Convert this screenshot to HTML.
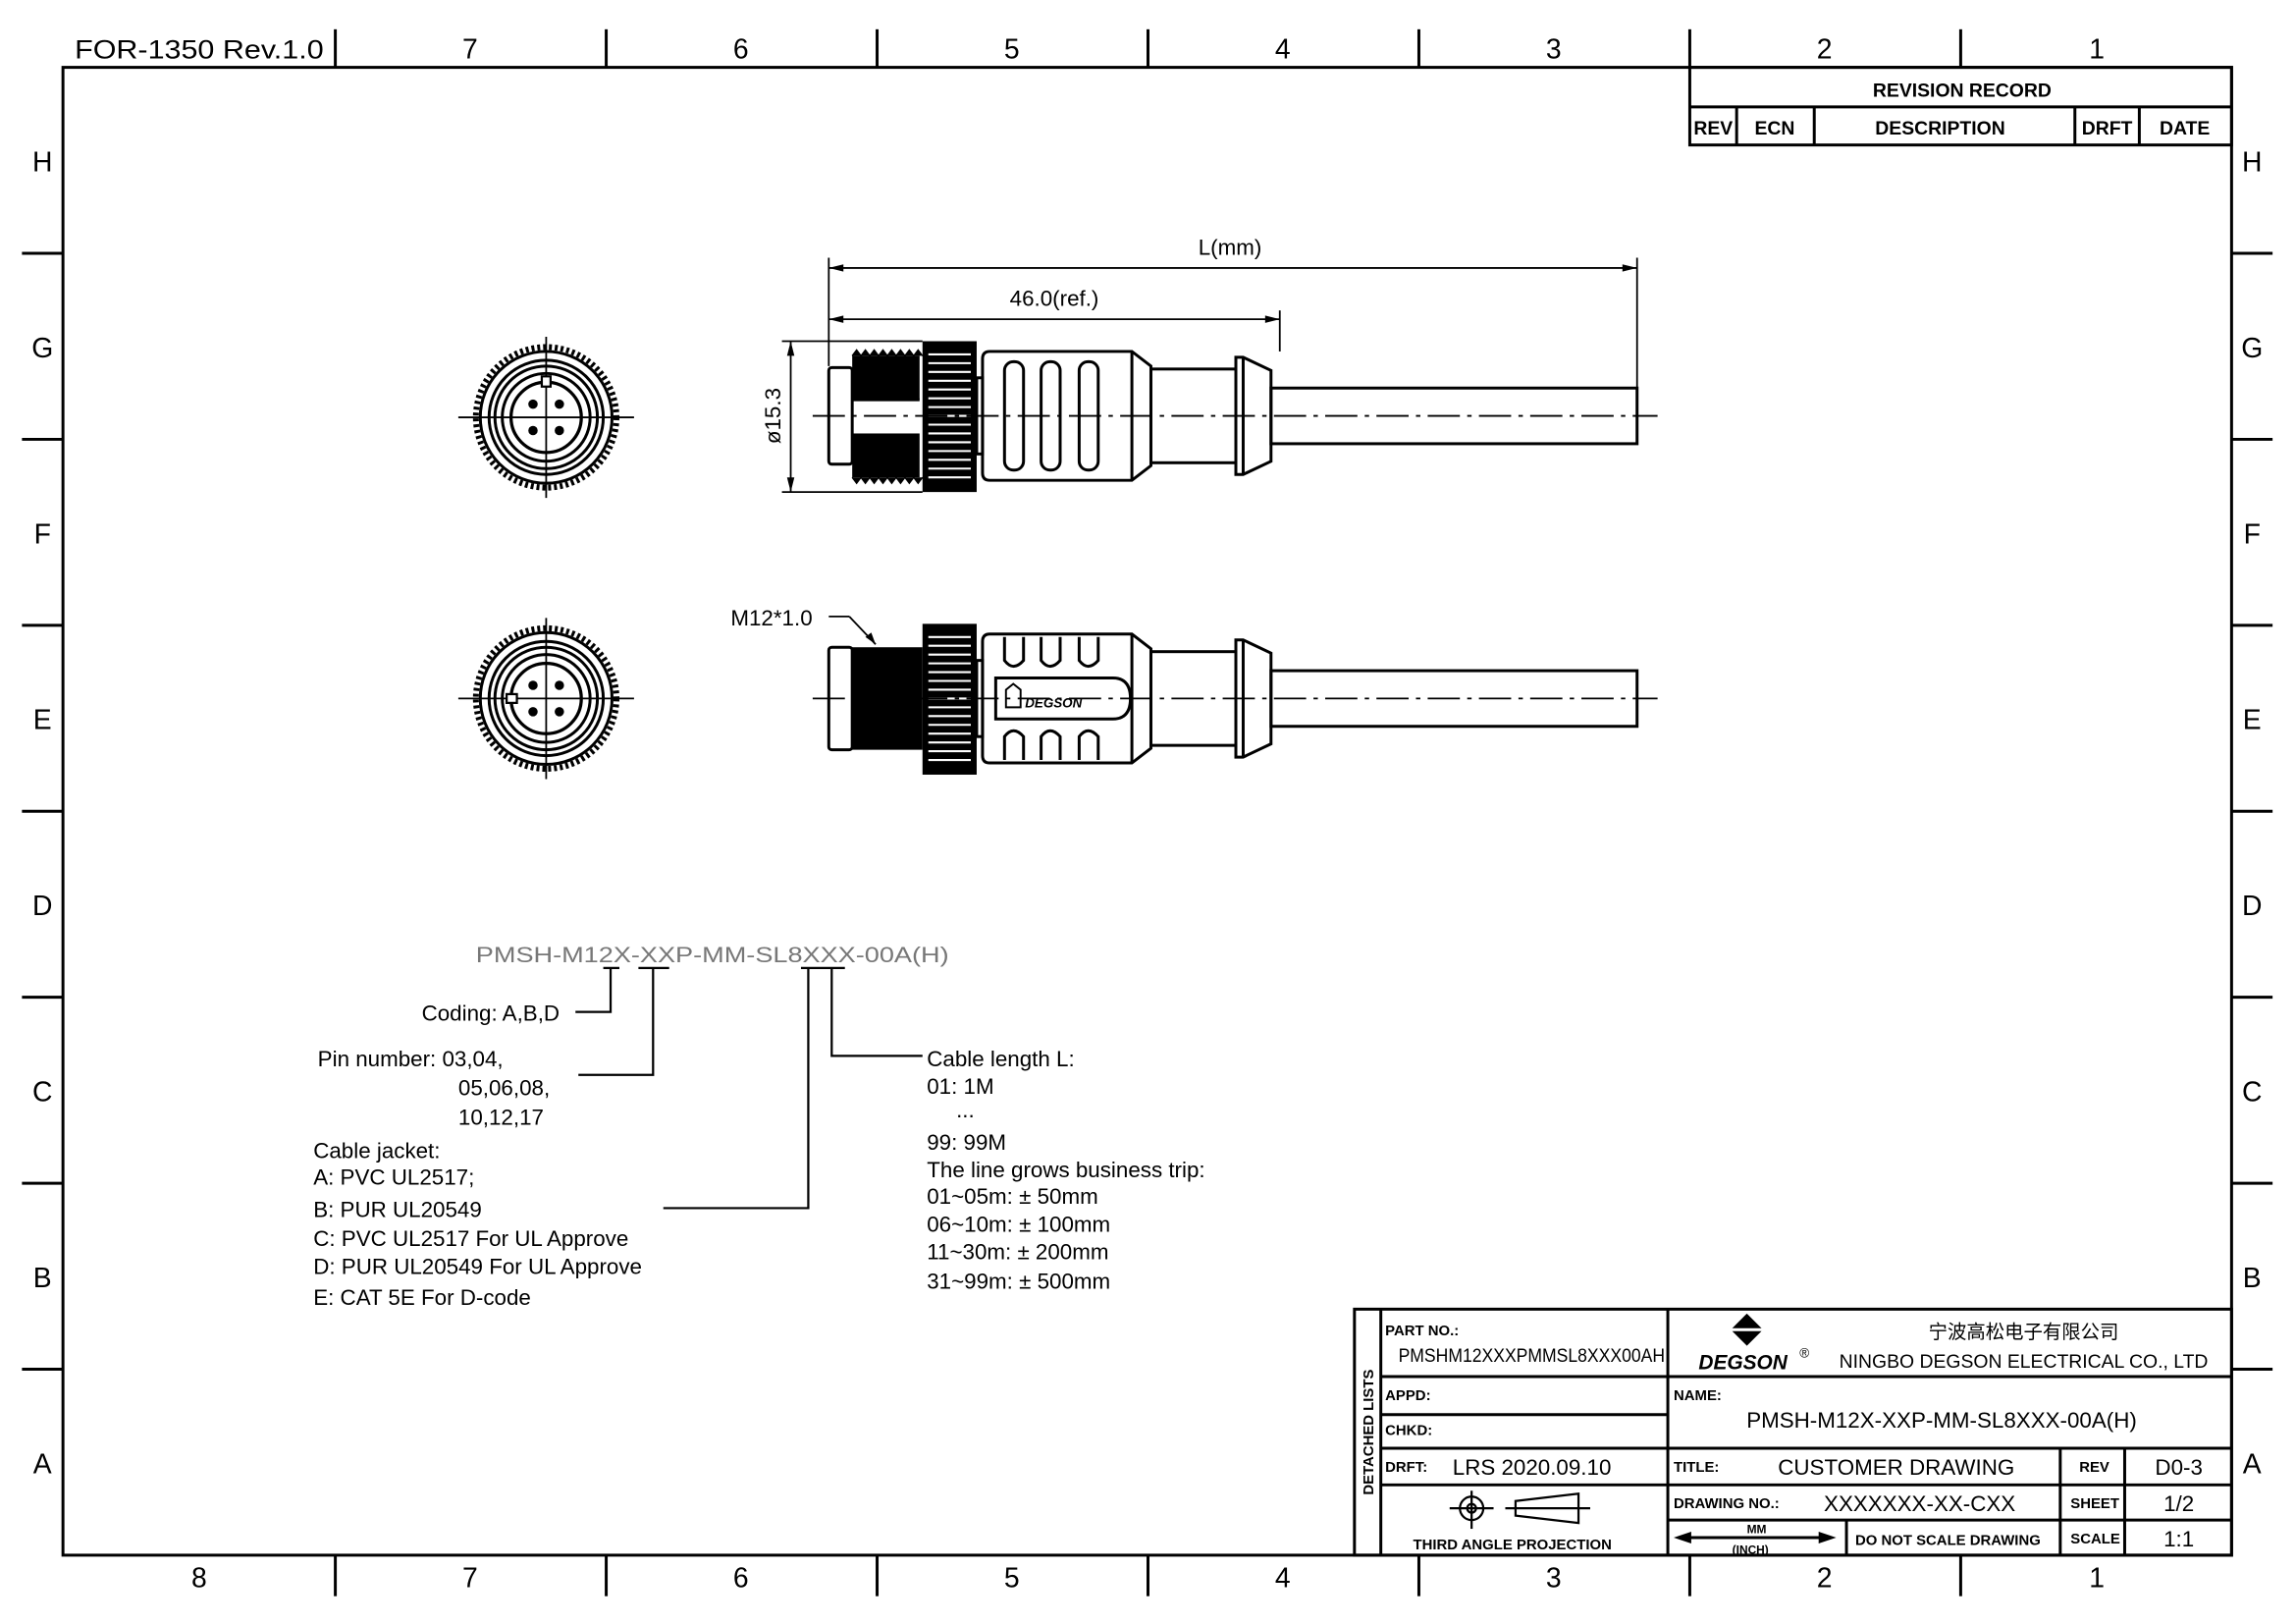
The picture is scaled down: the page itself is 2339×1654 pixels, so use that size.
<!DOCTYPE html>
<html><head><meta charset="utf-8"><style>html,body{margin:0;padding:0;background:#fff}svg{display:block}text{font-family:"Liberation Sans","Noto Sans CJK SC",sans-serif;fill:#000}</style></head><body>
<svg width="2339" height="1654" viewBox="0 0 1568 1109" preserveAspectRatio="none" xmlns="http://www.w3.org/2000/svg">
<defs>
<g id="front">
<line x1="-60" y1="0" x2="60" y2="0" stroke="#000" stroke-width="1.2"/>
<line x1="0" y1="-55" x2="0" y2="55" stroke="#000" stroke-width="1.2"/>
<ellipse cx="0" cy="0" rx="48" ry="48" fill="none" stroke="#000" stroke-width="4" stroke-dasharray="2 2"/>
<circle r="45" fill="none" stroke="#000" stroke-width="2"/>
<circle r="39" fill="none" stroke="#000" stroke-width="2"/>
<circle r="35" fill="none" stroke="#000" stroke-width="2"/>
<circle r="30" fill="none" stroke="#000" stroke-width="2"/>
<circle r="24" fill="none" stroke="#000" stroke-width="2.2"/>
<circle cx="-9" cy="-9" r="3.2"/><circle cx="9" cy="-9" r="3.2"/><circle cx="-9" cy="9" r="3.2"/><circle cx="9" cy="9" r="3.2"/>
</g>
<g id="nut">
<rect x="630" y="-51" width="37" height="103" fill="#000"/>
<g stroke="#fff" stroke-width="1.4">
<line x1="634" y1="-42" x2="663" y2="-42"/><line x1="634" y1="-36" x2="663" y2="-36"/><line x1="634" y1="-30" x2="663" y2="-30"/><line x1="634" y1="-24" x2="663" y2="-24"/><line x1="634" y1="-18" x2="663" y2="-18"/><line x1="634" y1="-12" x2="663" y2="-12"/><line x1="634" y1="-6" x2="663" y2="-6"/><line x1="634" y1="0" x2="663" y2="0"/><line x1="634" y1="6" x2="663" y2="6"/><line x1="634" y1="12" x2="663" y2="12"/><line x1="634" y1="18" x2="663" y2="18"/><line x1="634" y1="24" x2="663" y2="24"/><line x1="634" y1="30" x2="663" y2="30"/><line x1="634" y1="36" x2="663" y2="36"/><line x1="634" y1="42" x2="663" y2="42"/>
</g>
</g>
<g id="tail" fill="none" stroke="#000" stroke-width="2">
<rect x="667" y="-26" width="4" height="52"/>
<path d="M676 -44 H773 L786 -34 V34 L773 44 H676 Q671 44 671 39 V-39 Q671 -44 676 -44Z"/>
<line x1="773" y1="-44" x2="773" y2="44"/>
<rect x="786" y="-32" width="58" height="64"/>
<path d="M844 -40 L849 -40 L868 -31 V31 L849 40 L844 40 Z"/>
<line x1="849" y1="-40" x2="849" y2="40"/>
<rect x="868" y="-19" width="250" height="38"/>
</g>
</defs>

<!-- border -->
<g stroke="#000" fill="none">
<rect x="43" y="46" width="1481" height="1016" stroke-width="2"/>
<g stroke-width="2">
<line x1="229" y1="20" x2="229" y2="46"/><line x1="414" y1="20" x2="414" y2="46"/><line x1="599" y1="20" x2="599" y2="46"/><line x1="784" y1="20" x2="784" y2="46"/><line x1="969" y1="20" x2="969" y2="46"/><line x1="1154" y1="20" x2="1154" y2="46"/><line x1="1339" y1="20" x2="1339" y2="46"/>
<line x1="229" y1="1062" x2="229" y2="1090"/><line x1="414" y1="1062" x2="414" y2="1090"/><line x1="599" y1="1062" x2="599" y2="1090"/><line x1="784" y1="1062" x2="784" y2="1090"/><line x1="969" y1="1062" x2="969" y2="1090"/><line x1="1154" y1="1062" x2="1154" y2="1090"/><line x1="1339" y1="1062" x2="1339" y2="1090"/>
<line x1="15" y1="173" x2="43" y2="173"/><line x1="15" y1="300" x2="43" y2="300"/><line x1="15" y1="427" x2="43" y2="427"/><line x1="15" y1="554" x2="43" y2="554"/><line x1="15" y1="681" x2="43" y2="681"/><line x1="15" y1="808" x2="43" y2="808"/><line x1="15" y1="935" x2="43" y2="935"/>
<line x1="1524" y1="173" x2="1552" y2="173"/><line x1="1524" y1="300" x2="1552" y2="300"/><line x1="1524" y1="427" x2="1552" y2="427"/><line x1="1524" y1="554" x2="1552" y2="554"/><line x1="1524" y1="681" x2="1552" y2="681"/><line x1="1524" y1="808" x2="1552" y2="808"/><line x1="1524" y1="935" x2="1552" y2="935"/>
</g>
</g>
<g font-size="19" text-anchor="middle">
<text x="136" y="40" font-size="18" textLength="170" lengthAdjust="spacingAndGlyphs">FOR-1350 Rev.1.0</text>
<text x="321" y="40">7</text><text x="506" y="40">6</text><text x="691" y="40">5</text><text x="876" y="40">4</text><text x="1061" y="40">3</text><text x="1246" y="40">2</text><text x="1432" y="40">1</text>
<text x="136" y="1084">8</text><text x="321" y="1084">7</text><text x="506" y="1084">6</text><text x="691" y="1084">5</text><text x="876" y="1084">4</text><text x="1061" y="1084">3</text><text x="1246" y="1084">2</text><text x="1432" y="1084">1</text>
<text x="29" y="117">H</text><text x="29" y="244">G</text><text x="29" y="371">F</text><text x="29" y="498">E</text><text x="29" y="625">D</text><text x="29" y="752">C</text><text x="29" y="879">B</text><text x="29" y="1006">A</text>
<text x="1538" y="117">H</text><text x="1538" y="244">G</text><text x="1538" y="371">F</text><text x="1538" y="498">E</text><text x="1538" y="625">D</text><text x="1538" y="752">C</text><text x="1538" y="879">B</text><text x="1538" y="1006">A</text>
</g>

<!-- revision table -->
<g stroke="#000" stroke-width="2" fill="none">
<rect x="1154" y="46" width="370" height="53"/>
<line x1="1154" y1="73" x2="1524" y2="73"/>
<line x1="1186" y1="73" x2="1186" y2="99"/><line x1="1239" y1="73" x2="1239" y2="99"/><line x1="1417" y1="73" x2="1417" y2="99"/><line x1="1461" y1="73" x2="1461" y2="99"/>
</g>
<g font-size="13" font-weight="bold" text-anchor="middle">
<text x="1340" y="66">REVISION RECORD</text>
<text x="1170" y="92">REV</text><text x="1212" y="92">ECN</text><text x="1325" y="92">DESCRIPTION</text><text x="1439" y="92">DRFT</text><text x="1492" y="92">DATE</text>
</g>

<!-- front views -->
<use href="#front" x="373" y="285"/>
<use href="#front" x="373" y="477"/>
<rect x="370" y="257" width="6" height="7" fill="#fff" stroke="#000" stroke-width="1.5"/>
<rect x="346" y="474" width="7" height="6" fill="#fff" stroke="#000" stroke-width="1.5"/>

<!-- side view 1 -->
<g transform="translate(0,284)">
<rect x="566" y="-33" width="16" height="66" rx="2" fill="none" stroke="#000" stroke-width="2"/>
<rect x="582" y="-41" width="46" height="30" fill="#000"/>
<rect x="582" y="12" width="46" height="30" fill="#000"/>
<path d="M582 -41 l3 -4 l3 4 l3 -4 l3 4 l3 -4 l3 4 l3 -4 l3 4 l3 -4 l3 4 l3 -4 l3 4 l3 -4 l3 4 l3 -4 l3 4 M582 42 l3 4 l3 -4 l3 4 l3 -4 l3 4 l3 -4 l3 4 l3 -4 l3 4 l3 -4 l3 4 l3 -4 l3 4 l3 -4 l3 4 l3 -4" fill="#000" stroke="#000"/>
<line x1="582" y1="-11" x2="628" y2="-11" stroke="#000" stroke-width="2"/>
<use href="#nut"/>
<use href="#tail"/>
<g fill="none" stroke="#000" stroke-width="2">
<rect x="686" y="-37" width="13" height="74" rx="6"/><rect x="711" y="-37" width="13" height="74" rx="6"/><rect x="737" y="-37" width="13" height="74" rx="6"/>
</g>
<line x1="555" y1="0" x2="1132" y2="0" stroke="#000" stroke-width="1.2" stroke-dasharray="22 5 3 5"/>
</g>

<!-- side view 2 -->
<g transform="translate(0,477)">
<rect x="566" y="-35" width="16" height="70" rx="2" fill="none" stroke="#000" stroke-width="2"/>
<rect x="582" y="-35" width="48" height="70" fill="#000"/>
<use href="#nut"/>
<use href="#tail"/>
<g fill="none" stroke="#000" stroke-width="2">
<path d="M686 -42 V-26 Q692 -18 699 -26 V-42"/><path d="M711 -42 V-26 Q717 -18 724 -26 V-42"/><path d="M737 -42 V-26 Q743 -18 750 -26 V-42"/>
<path d="M686 42 V26 Q692 18 699 26 V42"/><path d="M711 42 V26 Q717 18 724 26 V42"/><path d="M737 42 V26 Q743 18 750 26 V42"/>
<path d="M680 -14 H760 Q772 -14 772 0 Q772 14 760 14 H680 Z"/>
<path d="M687 -6 L692 -10 L697 -6 V6 H687 Z" stroke-width="1.3"/>
</g>
<text x="700" y="6" font-size="9" font-weight="bold" font-style="italic">DEGSON</text>
<line x1="555" y1="0" x2="1132" y2="0" stroke="#000" stroke-width="1.2" stroke-dasharray="22 5 3 5"/>
</g>

<!-- dimensions -->
<g stroke="#000" stroke-width="1.2" fill="none">
<line x1="566" y1="176" x2="566" y2="250"/><line x1="874" y1="212" x2="874" y2="240"/><line x1="1118" y1="176" x2="1118" y2="265"/>
<line x1="566" y1="183" x2="1118" y2="183"/><line x1="566" y1="218" x2="874" y2="218"/>
<line x1="534" y1="233" x2="630" y2="233"/><line x1="534" y1="336" x2="630" y2="336"/><line x1="540" y1="233" x2="540" y2="336"/>
<line x1="566" y1="421" x2="580" y2="421"/><line x1="580" y1="421" x2="598" y2="440"/>
</g>
<g fill="#000">
<path d="M566 183 l10 -2.5 v5z"/><path d="M1118 183 l-10 -2.5 v5z"/>
<path d="M566 218 l10 -2.5 v5z"/><path d="M874 218 l-10 -2.5 v5z"/>
<path d="M540 233 l-2.5 10 h5z"/><path d="M540 336 l-2.5 -10 h5z"/>
<path d="M598 440 l-7 -5 l4 -3z"/>
</g>
<g font-size="15">
<text x="840" y="174" text-anchor="middle">L(mm)</text>
<text x="720" y="209" text-anchor="middle">46.0(ref.)</text>
<text x="533" y="284" text-anchor="middle" transform="rotate(-90 533 284)">ø15.3</text>
<text x="499" y="427">M12*1.0</text>
</g>

<!-- part code -->
<text x="325" y="657" font-size="15" fill="#777" style="fill:#777" textLength="323" lengthAdjust="spacingAndGlyphs">PMSH-M12X-XXP-MM-SL8XXX-00A(H)</text>
<g stroke="#000" stroke-width="1.5" fill="none">
<line x1="412" y1="661" x2="423" y2="661"/><line x1="436" y1="661" x2="457" y2="661"/><line x1="547" y1="661" x2="577" y2="661"/>
<polyline points="417,661 417,691 393,691"/>
<polyline points="446,661 446,734 395,734"/>
<polyline points="552,661 552,825 453,825"/>
<polyline points="568,661 568,721 630,721"/>
</g>
<g font-size="15">
<text x="288" y="697">Coding: A,B,D</text>
<text x="217" y="728">Pin number: 03,04,</text>
<text x="313" y="748">05,06,08,</text>
<text x="313" y="768">10,12,17</text>
<text x="214" y="791">Cable jacket:</text>
<text x="214" y="809">A: PVC UL2517;</text>
<text x="214" y="831">B: PUR UL20549</text>
<text x="214" y="851">C: PVC UL2517 For UL Approve</text>
<text x="214" y="870">D: PUR UL20549 For UL Approve</text>
<text x="214" y="891">E: CAT 5E For D-code</text>
<text x="633" y="728">Cable length L:</text>
<text x="633" y="747">01: 1M</text>
<text x="653" y="763">...</text>
<text x="633" y="785">99: 99M</text>
<text x="633" y="804">The line grows business trip:</text>
<text x="633" y="822">01~05m: ± 50mm</text>
<text x="633" y="841">06~10m: ± 100mm</text>
<text x="633" y="860">11~30m: ± 200mm</text>
<text x="633" y="880">31~99m: ± 500mm</text>
</g>

<!-- title block -->
<g stroke="#000" stroke-width="2" fill="none">
<rect x="925" y="894" width="599" height="168"/>
<line x1="943" y1="894" x2="943" y2="1062"/>
<line x1="1139" y1="894" x2="1139" y2="1062"/>
<line x1="943" y1="940" x2="1524" y2="940"/>
<line x1="943" y1="966" x2="1139" y2="966"/>
<line x1="943" y1="989" x2="1524" y2="989"/>
<line x1="943" y1="1014" x2="1524" y2="1014"/>
<line x1="1139" y1="1038" x2="1524" y2="1038"/>
<line x1="1407" y1="989" x2="1407" y2="1062"/>
<line x1="1451" y1="989" x2="1451" y2="1062"/>
<line x1="1261" y1="1038" x2="1261" y2="1062"/>
</g>
<text x="938" y="978" font-size="10" font-weight="bold" text-anchor="middle" transform="rotate(-90 938 978)">DETACHED LISTS</text>
<g font-size="10" font-weight="bold">
<text x="946" y="912">PART NO.:</text>
<text x="946" y="956">APPD:</text>
<text x="946" y="980">CHKD:</text>
<text x="946" y="1005">DRFT:</text>
<text x="1143" y="956">NAME:</text>
<text x="1143" y="1005">TITLE:</text>
<text x="1143" y="1030">DRAWING NO.:</text>
<text x="1420" y="1005">REV</text>
<text x="1414" y="1030">SHEET</text>
<text x="1414" y="1054">SCALE</text>
<text x="1267" y="1055">DO NOT SCALE DRAWING</text>
<text x="965" y="1058">THIRD ANGLE PROJECTION</text>
<text x="1193" y="1047" font-size="8">MM</text>
<text x="1183" y="1061" font-size="8">(INCH)</text>
</g>
<text x="955" y="930" font-size="13" textLength="182" lengthAdjust="spacingAndGlyphs">PMSHM12XXXPMMSL8XXX00AH</text>
<text x="992" y="1007" font-size="15">LRS 2020.09.10</text>
<text x="1295" y="1007" font-size="15" text-anchor="middle">CUSTOMER DRAWING</text>
<text x="1488" y="1007" font-size="15" text-anchor="middle">D0-3</text>
<text x="1311" y="1032" font-size="15" text-anchor="middle">XXXXXXX-XX-CXX</text>
<text x="1488" y="1032" font-size="15" text-anchor="middle">1/2</text>
<text x="1488" y="1056" font-size="15" text-anchor="middle">1:1</text>
<text x="1326" y="975" font-size="15" text-anchor="middle">PMSH-M12X-XXP-MM-SL8XXX-00A(H)</text>
<text x="1382" y="914" font-size="13" text-anchor="middle">宁波高松电子有限公司</text>
<text x="1382" y="934" font-size="13" text-anchor="middle">NINGBO DEGSON ELECTRICAL CO., LTD</text>
<path d="M1193 897 L1183 907 H1203 Z" fill="#000"/>
<path d="M1183 909 H1203 L1193 919 Z" fill="#000"/>
<text x="1160" y="935" font-size="14" font-weight="bold" font-style="italic">DEGSON</text>
<text x="1229" y="927" font-size="9">®</text>
<!-- projection symbol -->
<g stroke="#000" stroke-width="1.5" fill="none">
<circle cx="1005" cy="1030" r="8"/><circle cx="1005" cy="1030" r="3"/>
<line x1="990" y1="1030" x2="1020" y2="1030"/><line x1="1005" y1="1018" x2="1005" y2="1044"/>
<path d="M1035 1025 L1078 1020 V1040 L1035 1035 Z"/>
<line x1="1028" y1="1030" x2="1086" y2="1030"/>
</g>
<g stroke="#000" stroke-width="2"><line x1="1148" y1="1050" x2="1250" y2="1050"/></g>
<path d="M1143 1050 l12 -4 v8z M1254 1050 l-12 -4 v8z" fill="#000"/>
</svg>
</body></html>
